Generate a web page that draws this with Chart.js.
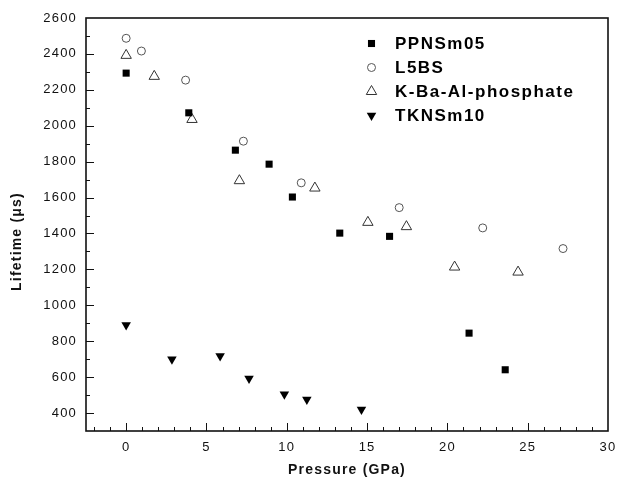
<!DOCTYPE html>
<html>
<head>
<meta charset="utf-8">
<script src="https://cdn.jsdelivr.net/npm/chart.js@4"></script>
<style>
html,body{margin:0;padding:0;background:#fff;}
#wrap{width:618px;height:482px;}
canvas{display:block;}
</style>
</head>
<body>
<div id="wrap"><canvas id="c" width="618" height="482"></canvas></div>
<script>
// ---- data ----
const seriesLabels = ['PPNSm05', 'L5BS', 'K-Ba-Al-phosphate', 'TKNSm10'];

const ppnPressure = [0, 3.9, 6.8, 8.9, 10.35, 13.3, 16.4, 21.35, 23.6];
const ppnLifetime = [2293, 2072, 1864, 1786, 1603, 1402, 1384, 845, 641];

const l5bsPressure = [0, 0.95, 3.7, 7.3, 10.9, 17.0, 22.2, 27.2];
const l5bsLifetime = [2487, 2416, 2254, 1914, 1682, 1544, 1431, 1316];

const kbaPressure = [0, 1.75, 4.1, 7.05, 11.75, 15.05, 17.45, 20.45, 24.4];
const kbaLifetime = [2392, 2275, 2035, 1694, 1653, 1462, 1438, 1213, 1185];

const tknPressure = [0, 2.85, 5.85, 7.65, 9.85, 11.25, 14.65];
const tknLifetime = [890, 699, 717, 593, 504, 476, 420];

const xTickValues = [0, 5, 10, 15, 20, 25, 30];
const yTickValues = [400, 600, 800, 1000, 1200, 1400, 1600, 1800, 2000, 2200, 2400, 2600];
const xAxisTitle = 'Pressure (GPa)';
const yAxisTitle = 'Lifetime (\u03bcs)';

const FONT = '"Liberation Sans", Arial, Helvetica, sans-serif';

function pts(xs, ys) { return xs.map((x, i) => ({x: x, y: ys[i]})); }

// letter spacing for all canvas text (reference text is widely spaced)
const spacingPlugin = {
  id: 'spacing',
  beforeUpdate(chart) { chart.ctx.letterSpacing = '1.2px'; },
  beforeDraw(chart) { chart.ctx.letterSpacing = '1.2px'; }
};

// closed frame + inward major/minor ticks
const framePlugin = {
  id: 'frame',
  beforeDatasetsDraw(chart) {
    const {ctx, chartArea: a, scales: {x, y}} = chart;
    ctx.save();
    ctx.strokeStyle = '#111';
    ctx.lineWidth = 1;
    for (let v = Math.ceil(x.min); v <= x.max; v += 1) {
      if (v <= x.min || v >= x.max) continue;
      const px = Math.round(x.getPixelForValue(v)) + 0.5;
      const len = (v % 5 === 0) ? 8 : 4;
      ctx.beginPath(); ctx.moveTo(px, a.bottom); ctx.lineTo(px, a.bottom - len); ctx.stroke();
    }
    for (let v = Math.ceil(y.min / 100) * 100; v <= y.max; v += 100) {
      if (v <= y.min || v >= y.max) continue;
      const py = Math.round(y.getPixelForValue(v)) + 0.5;
      const len = (v % 200 === 0) ? 8 : 4;
      ctx.beginPath(); ctx.moveTo(a.left, py); ctx.lineTo(a.left + len, py); ctx.stroke();
    }
    ctx.lineWidth = 1.6;
    ctx.strokeRect(a.left, a.top, a.right - a.left, a.bottom - a.top);
    ctx.restore();
  }
};

// legend drawn inside the plot area (top right)
const insideLegend = {
  id: 'insideLegend',
  afterDraw(chart) {
    const {ctx, chartArea: a} = chart;
    ctx.save();
    ctx.font = 'bold 17px ' + FONT;
    ctx.letterSpacing = '1.5px';
    ctx.textBaseline = 'middle';
    chart.data.datasets.forEach((ds, i) => {
      const yy = a.top + 25.5 + i * 24;
      const mx = a.left + 285.5;
      ctx.save();
      ctx.fillStyle = ds.backgroundColor;
      ctx.strokeStyle = ds.borderColor;
      ctx.lineWidth = ds.borderWidth;
      Chart.helpers.drawPoint(ctx, {
        pointStyle: ds.pointStyle,
        rotation: ds.pointRotation || 0,
        radius: ds.pointRadius,
        borderWidth: ds.borderWidth
      }, mx, yy);
      ctx.restore();
      ctx.fillStyle = '#000';
      ctx.fillText(ds.label, a.left + 309, yy + 1);
    });
    ctx.restore();
  }
};

// shift the vertical axis title down a bit, as in the reference
const titleShift = {
  id: 'titleShift',
  afterLayout(chart) {
    const s = chart.scales.y;
    if (!s._shiftWrapped) {
      const orig = s.drawTitle;
      s.drawTitle = function () {
        this.ctx.save();
        this.ctx.translate(0, 17);
        orig.apply(this, arguments);
        this.ctx.restore();
      };
      s._shiftWrapped = true;
    }
  }
};

new Chart(document.getElementById('c'), {
  type: 'scatter',
  data: {
    datasets: [
      {
        label: seriesLabels[0], data: pts(ppnPressure, ppnLifetime),
        pointStyle: 'rect', pointRadius: 5, borderWidth: 0,
        backgroundColor: '#000', borderColor: '#000'
      },
      {
        label: seriesLabels[1], data: pts(l5bsPressure, l5bsLifetime),
        pointStyle: 'circle', pointRadius: 4, borderWidth: 1,
        backgroundColor: '#fff', borderColor: '#555'
      },
      {
        label: seriesLabels[2], data: pts(kbaPressure, kbaLifetime),
        pointStyle: 'triangle', pointRadius: 6, borderWidth: 1,
        backgroundColor: '#fff', borderColor: '#333'
      },
      {
        label: seriesLabels[3], data: pts(tknPressure, tknLifetime),
        pointStyle: 'triangle', pointRotation: 180, pointRadius: 5.5, borderWidth: 0,
        backgroundColor: '#000', borderColor: '#000'
      }
    ]
  },
  options: {
    responsive: false,
    animation: false,
    devicePixelRatio: 1,
    layout: {padding: {left: 0, right: 10, top: 18, bottom: 0}},
    plugins: {legend: {display: false}, tooltip: {enabled: false}},
    elements: {point: {hoverRadius: 5}},
    scales: {
      x: {
        type: 'linear', min: -2.5, max: 30,
        afterBuildTicks: s => { s.ticks = xTickValues.map(v => ({value: v})); },
        afterFit: s => { s.height = 51; s.paddingLeft = 0; s.paddingRight = 0; },
        grid: {display: false, drawTicks: false},
        border: {display: false},
        ticks: {padding: 9, color: '#111', font: {family: FONT, size: 13},
                callback: v => String(v)},
        title: {
          display: true, text: xAxisTitle, color: '#111',
          font: {family: FONT, size: 14, weight: 'bold'},
          padding: {top: 0, bottom: 3}
        }
      },
      y: {
        type: 'linear', min: 300, max: 2600,
        afterBuildTicks: s => { s.ticks = yTickValues.map(v => ({value: v})); },
        afterFit: s => { s.width = 86; s.paddingTop = 0; s.paddingBottom = 0; },
        grid: {display: false, drawTicks: false},
        border: {display: false},
        ticks: {padding: 9, color: '#111', font: {family: FONT, size: 13},
                callback: v => String(v)},
        title: {
          display: true, text: yAxisTitle, color: '#111',
          font: {family: FONT, size: 14, weight: 'bold'},
          padding: {top: 9, bottom: 0}
        }
      }
    }
  },
  plugins: [spacingPlugin, framePlugin, insideLegend, titleShift]
});
</script>
</body>
</html>
